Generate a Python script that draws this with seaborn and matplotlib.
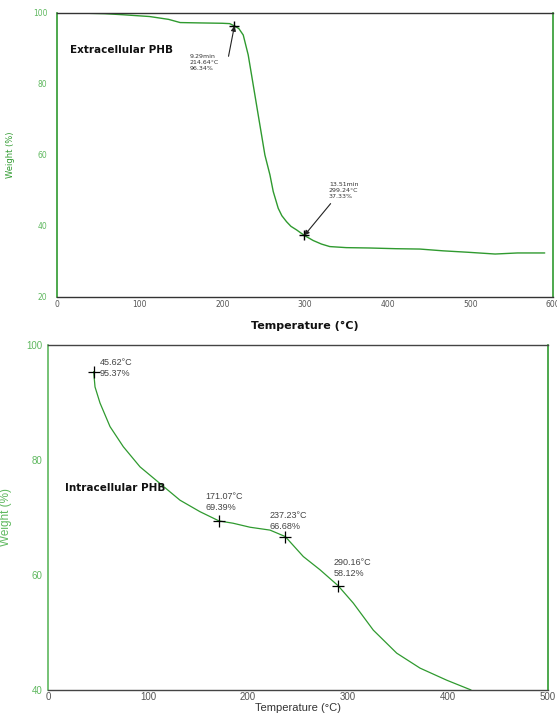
import matplotlib
matplotlib.use("Agg")
import matplotlib.pyplot as plt
from matplotlib.ticker import MultipleLocator
import seaborn as sns
import pandas as pd

# ---- data: extracellular PHB (top) ----
ext_temp = [40, 58, 80, 112, 135, 149, 173, 200, 209, 214.64, 220, 225.3, 231.3, 235.4,
            239.4, 243.4, 247.5, 251.5, 257.6, 261.6, 267.6, 272, 277.7, 283, 289.8,
            299.24, 310, 320, 330, 350, 378, 410, 439, 467, 497, 530, 557, 590]
ext_weight = [99.9, 99.8, 99.5, 99.0, 98.2, 97.3, 97.2, 97.1, 97.0, 96.34, 95.6, 93.8,
              88.2, 82.5, 76.9, 71.3, 65.6, 60.0, 54.4, 49.7, 45.0, 42.9, 41.2, 39.9,
              38.9, 37.33, 35.9, 34.9, 34.2, 33.9, 33.8, 33.6, 33.5, 33.0, 32.6, 32.1,
              32.4, 32.4]
ext_mark_temp = [214.64, 299.24]
ext_mark_weight = [96.34, 37.33]
ext_mark_labels = ["9.29min\n214.64°C\n96.34%", "13.51min\n299.24°C\n37.33%"]

# ---- data: intracellular PHB (bottom) ----
int_temp = [45.62, 47, 52, 62, 75.3, 92, 112, 132, 152, 171.07, 185, 202, 222, 237.23,
            255.3, 272, 290.16, 305.3, 325.3, 348.7, 372, 398.7, 423]
int_weight = [95.37, 92.7, 89.9, 85.8, 82.3, 78.8, 75.9, 73.0, 71.0, 69.39, 69.0, 68.3,
              67.8, 66.68, 63.2, 60.9, 58.12, 55.1, 50.4, 46.4, 43.8, 41.7, 40.0]
int_mark_temp = [45.62, 171.07, 237.23, 290.16]
int_mark_weight = [95.37, 69.39, 66.68, 58.12]
int_mark_labels = ["45.62°C\n95.37%", "171.07°C\n69.39%", "237.23°C\n66.68%", "290.16°C\n58.12%"]

sns.set_style("white")
plt.rcParams['font.family'] = ['DejaVu Sans']

GREEN = "#2f9a2f"
LGREEN = "#5fb85f"
GRAY = "#555555"
ARIAL = ["Liberation Sans", "DejaVu Sans"]

fig = plt.figure(figsize=(5.57, 7.17), dpi=100)

# ---------- top panel ----------
ax1 = fig.add_axes([0.1023, 0.5858, 0.8905, 0.3961])
df1 = pd.DataFrame({"T": ext_temp, "W": ext_weight})
sns.lineplot(data=df1, x="T", y="W", ax=ax1, color=GREEN, lw=1.0, sort=False)
ax1.set_xlim(0, 600)
ax1.set_ylim(20, 100)
ax1.xaxis.set_major_locator(MultipleLocator(100))
ax1.xaxis.set_minor_locator(MultipleLocator(25))
ax1.yaxis.set_major_locator(MultipleLocator(20))
ax1.yaxis.set_minor_locator(MultipleLocator(5))
ax1.tick_params(axis="x", which="both", direction="in", colors="#222222", labelcolor=GRAY,
                labelsize=5.5, length=3, width=0.8, pad=2)
ax1.tick_params(axis="x", which="major", length=4)
ax1.tick_params(axis="y", which="both", direction="out", colors=LGREEN, labelcolor=LGREEN,
                labelsize=5.5, length=3, width=0.8, pad=2)
ax1.tick_params(axis="y", which="major", length=5)
for s in ["top", "bottom"]:
    ax1.spines[s].set_color("#333333")
    ax1.spines[s].set_linewidth(1.0)
for s in ["left", "right"]:
    ax1.spines[s].set_color(GREEN)
    ax1.spines[s].set_linewidth(1.2)
ax1.set_xlabel("Temperature (°C)", fontsize=8, fontweight="bold", color="#111111", labelpad=9)
ax1.set_ylabel("Weight (%)", fontsize=6, color=GREEN, labelpad=13)
ax1.plot(ext_mark_temp, ext_mark_weight, linestyle="none", marker="+", color="black",
         markersize=7, mew=1.0)
arrow_starts = [(207.5, 87.8), (331, 46.3)]
for t, w, st in zip(ext_mark_temp, ext_mark_weight, arrow_starts):
    ax1.annotate("", xy=(t, w), xytext=st,
                 arrowprops=dict(arrowstyle="-|>", color="#222222", lw=0.8,
                                 mutation_scale=7, shrinkA=0, shrinkB=0))
text_pos = [(160, 88.5), (329, 52.5)]
for (tx, ty), lab in zip(text_pos, ext_mark_labels):
    ax1.text(tx, ty, lab, fontsize=4.5, color="#333333", va="top", ha="left",
             linespacing=1.25)
ax1.text(16, 89.6, "Extracellular PHB", fontsize=7.5, fontweight="bold", color="#111111",
         va="center", ha="left")

# ---------- bottom panel ----------
ax2 = fig.add_axes([0.0862, 0.0377, 0.8977, 0.4812])
df2 = pd.DataFrame({"T": int_temp, "W": int_weight})
sns.lineplot(data=df2, x="T", y="W", ax=ax2, color=GREEN, lw=0.9, sort=False)
ax2.set_xlim(0, 500)
ax2.set_ylim(40, 100)
ax2.xaxis.set_major_locator(MultipleLocator(100))
ax2.xaxis.set_minor_locator(MultipleLocator(25))
ax2.yaxis.set_major_locator(MultipleLocator(20))
ax2.yaxis.set_minor_locator(MultipleLocator(5))
ax2.tick_params(axis="x", which="both", direction="in", colors="#222222", labelcolor=GRAY,
                labelsize=7, length=3, width=0.8, pad=1.5)
ax2.tick_params(axis="x", which="major", length=4)
ax2.tick_params(axis="y", which="both", direction="out", colors=LGREEN, labelcolor=LGREEN,
                labelsize=7, length=3, width=0.8, pad=1)
for lab in ax2.get_xticklabels() + ax2.get_yticklabels():
    lab.set_family(ARIAL)
for s in ["top", "bottom"]:
    ax2.spines[s].set_color("#444444")
    ax2.spines[s].set_linewidth(1.0)
for s in ["left", "right"]:
    ax2.spines[s].set_color(LGREEN)
    ax2.spines[s].set_linewidth(1.2)
ax2.spines["right"].set_color(GREEN)
ax2.set_xlabel("Temperature (°C)", fontsize=8, color="#333333", labelpad=0.5, family=ARIAL)
ax2.set_ylabel("Weight (%)", fontsize=8.5, color=LGREEN, labelpad=10, family=ARIAL)
ax2.plot(int_mark_temp, int_mark_weight, linestyle="none", marker="+", color="black",
         markersize=9, mew=0.9)
# label offsets in points (dx, dy) relative to each marker
label_offsets = [(4.5, 9.5), (-10, 21), (-11.5, 18.5), (-3.5, 20)]
for t, w, lab, off in zip(int_mark_temp, int_mark_weight, int_mark_labels, label_offsets):
    ax2.annotate(lab, xy=(t, w), xytext=off, textcoords="offset points", fontsize=6.5,
                 color="#444444", va="top", ha="left", linespacing=1.3, family=ARIAL)
ax2.text(17, 75.1, "Intracellular PHB", fontsize=7.5, fontweight="bold", color="#111111",
         va="center", ha="left")

fig.savefig("out.png", dpi=100)
